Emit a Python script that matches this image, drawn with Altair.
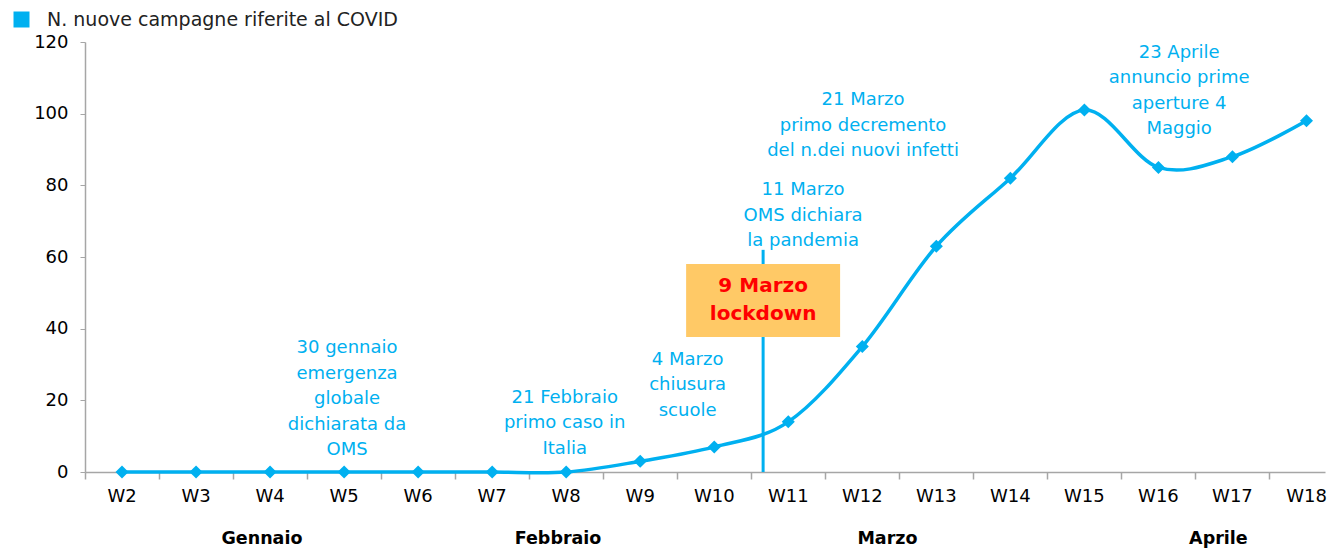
import altair as alt
import pandas as pd

weeks = ["W2", "W3", "W4", "W5", "W6", "W7", "W8", "W9", "W10",
         "W11", "W12", "W13", "W14", "W15", "W16", "W17", "W18"]
values = [0, 0, 0, 0, 0, 0, 0, 3, 7, 14, 35, 63, 82, 101, 85, 88, 98]
series_name = "N. nuove campagne riferite al COVID"

months = ["Gennaio", "Febbraio", "Marzo", "Aprile"]
month_pos = [1.89, 5.89, 10.34, 14.81]

ann_text = [
    ["30 gennaio", "emergenza", "globale", "dichiarata da", "OMS"],
    ["21 Febbraio", "primo caso in", "Italia"],
    ["4 Marzo", "chiusura", "scuole"],
    ["11  Marzo", "OMS dichiara", "la pandemia"],
    ["21 Marzo", "primo decremento", "del n.dei nuovi infetti"],
    ["23 Aprile", "annuncio prime", "aperture 4", "Maggio"],
]
ann_x = [3.04, 5.98, 7.64, 9.20, 10.01, 14.28]
ann_y = [37.1, 23.2, 33.8, 81.2, 106.3, 119.5]

lock_x = 8.66
lock_top = 62
box_x = [7.62, 9.70]
box_y = [37.7, 58.05]
box_text = ["9 Marzo", "lockdown"]
box_text_y = 54.8

BLUE = "#00B0F0"
FONT = "DejaVu Sans"
W, H = 1240, 430

df = pd.DataFrame({"idx": list(range(len(weeks))), "week": weeks,
                   "val": values, "serie": series_name})
df_m = pd.DataFrame({"x": month_pos, "m": months})
df_a = pd.DataFrame({"x": ann_x, "y": ann_y, "t": ann_text})
df_rule = pd.DataFrame({"x": [lock_x], "y": [0], "y2": [lock_top]})
df_box = pd.DataFrame({"x": [box_x[0]], "x2": [box_x[1]], "y": [box_y[0]], "y2": [box_y[1]]})
df_bt = pd.DataFrame({"x": [lock_x], "y": [box_text_y], "t": [box_text]})

xscale = alt.Scale(domain=[-0.5, 16.25], nice=False, zero=False)
yscale = alt.Scale(domain=[0, 120], nice=False)

xaxis = alt.Axis(values=[i - 0.5 for i in range(17)], labels=False, title=None,
                 grid=False, tickSize=7, tickColor="#A6A6A6", domainColor="#A6A6A6",
                 domainWidth=1.5, tickWidth=1.5)
yaxis = alt.Axis(values=list(range(0, 121, 20)), title=None, grid=False, tickSize=5,
                 tickColor="#A6A6A6", domainColor="#A6A6A6", domainWidth=1.5,
                 labelFontSize=18, labelFont=FONT, labelColor="#000000", labelPadding=12)

base = alt.Chart(df)

line = base.mark_line(color=BLUE, strokeWidth=3.5, interpolate="cardinal").encode(
    x=alt.X("idx:Q", scale=xscale, axis=xaxis),
    y=alt.Y("val:Q", scale=yscale, axis=yaxis),
)

points = base.mark_point(shape="diamond", filled=True, size=170, opacity=1).encode(
    x=alt.X("idx:Q", scale=xscale),
    y=alt.Y("val:Q", scale=yscale),
    color=alt.Color("serie:N", scale=alt.Scale(range=[BLUE]),
                    legend=alt.Legend(title=None, orient="none", legendX=-73, legendY=-32,
                                      symbolType="square", symbolSize=256,
                                      symbolStrokeWidth=0, labelFontSize=19,
                                      labelFont=FONT, labelColor="#222222",
                                      labelOffset=16, labelLimit=0, padding=0)),
)

week_labels = base.mark_text(fontSize=18, font=FONT, color="#000000", baseline="middle").encode(
    x=alt.X("idx:Q", scale=xscale), y=alt.value(455), text="week:N")

month_labels = alt.Chart(df_m).mark_text(fontSize=17.5, font=FONT, fontWeight="bold",
                                         color="#000000", baseline="middle").encode(
    x=alt.X("x:Q", scale=xscale), y=alt.value(497), text="m:N")

rule = alt.Chart(df_rule).mark_rule(color=BLUE, strokeWidth=3).encode(
    x=alt.X("x:Q", scale=xscale), y=alt.Y("y:Q", scale=yscale), y2="y2:Q")

box = alt.Chart(df_box).mark_rect(color="#FFC966").encode(
    x=alt.X("x:Q", scale=xscale), x2="x2:Q",
    y=alt.Y("y:Q", scale=yscale), y2="y2:Q")

box_txt = alt.Chart(df_bt).mark_text(fontSize=20, font=FONT, fontWeight="bold", color="#FF0000",
                                     baseline="top", lineHeight=28).encode(
    x=alt.X("x:Q", scale=xscale), y=alt.Y("y:Q", scale=yscale), text="t")

ann = alt.Chart(df_a).mark_text(fontSize=18, font=FONT, color=BLUE, baseline="top",
                                lineHeight=25.5).encode(
    x=alt.X("x:Q", scale=xscale), y=alt.Y("y:Q", scale=yscale), text="t")

chart = alt.layer(rule, box, box_txt, ann, line, points, week_labels, month_labels).properties(
    width=W, height=H, padding={"left": 4, "top": 2, "right": 0, "bottom": 0}
).configure_view(stroke=None).configure_axis(labelFont=FONT)

chart.save("out.html", embed_options={"renderer": "svg", "actions": False})
